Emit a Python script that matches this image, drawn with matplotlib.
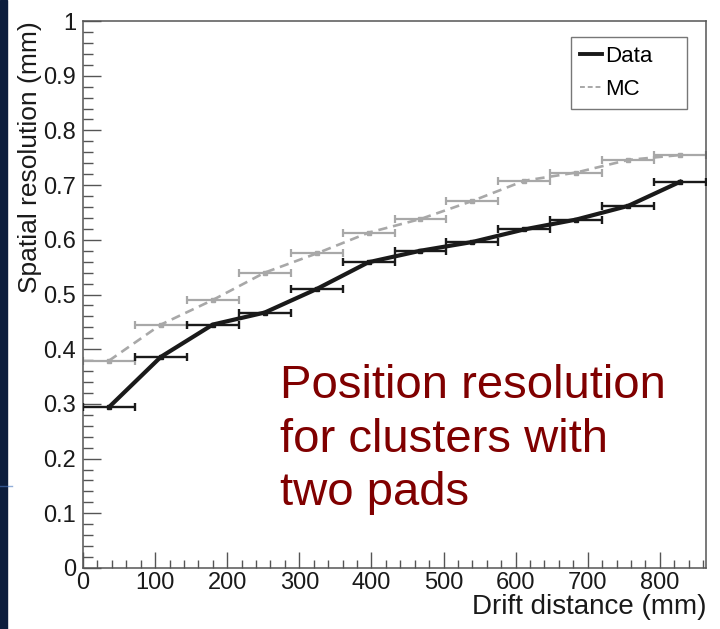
import matplotlib
matplotlib.use("Agg")
import matplotlib.pyplot as plt
from matplotlib.patches import Rectangle
from matplotlib.lines import Line2D
from matplotlib.ticker import MultipleLocator, FormatStrFormatter

plt.rcParams['font.family'] = ['Liberation Sans', 'DejaVu Sans']

# drift distance bins: 12 bins of 72 mm
bin_centers = [36, 108, 180, 252, 324, 396, 468, 540, 612, 684, 756, 828]
bin_half_width = 36

data_res = [0.294, 0.386, 0.445, 0.467, 0.510, 0.559, 0.580, 0.596, 0.619, 0.637, 0.662, 0.706]
mc_res = [0.379, 0.445, 0.490, 0.540, 0.575, 0.613, 0.638, 0.671, 0.708, 0.723, 0.746, 0.755]

x_ticks = [0, 100, 200, 300, 400, 500, 600, 700, 800]
y_ticks = [0, 0.1, 0.2, 0.3, 0.4, 0.5, 0.6, 0.7, 0.8, 0.9, 1.0]

note_lines = ["Position resolution", "for clusters with", "two pads"]

axis_grey = '#555555'
mc_grey = '#a8a8a8'
ink = '#1a1a1a'


def draw_series(ax, y, color, lw, ls, err_lw, label, z):
    ax.errorbar(bin_centers, y, xerr=bin_half_width, fmt='s', ms=3.5,
                color=color, ecolor=color, elinewidth=err_lw, capsize=2.8,
                capthick=err_lw, zorder=z)
    ax.plot(bin_centers, y, color=color, lw=lw, ls=ls, label=label, zorder=z + 1)


def main():
    fig = plt.figure(figsize=(7.2, 6.29), dpi=100)
    ax = fig.add_axes([83 / 720, 61 / 629, 623 / 720, 547 / 629])

    draw_series(ax, mc_res, mc_grey, 1.9, (0, (3.5, 2.2)), 1.6, 'MC', 2)
    draw_series(ax, data_res, ink, 3.0, '-', 1.7, 'Data', 4)

    ax.set_xlim(0, 864)
    ax.set_ylim(0, 1)
    ax.set_xticks(x_ticks)
    ax.set_yticks(y_ticks)
    ax.xaxis.set_minor_locator(MultipleLocator(20))
    ax.yaxis.set_minor_locator(MultipleLocator(0.02))
    ax.xaxis.set_major_formatter(FormatStrFormatter('%g'))
    ax.yaxis.set_major_formatter(FormatStrFormatter('%g'))
    ax.tick_params(which='both', direction='in', top=False, right=False,
                   color=axis_grey, width=1.0, labelsize=17, labelcolor=ink)
    ax.tick_params(axis='x', which='major', length=11.5, pad=3)
    ax.tick_params(axis='x', which='minor', length=6)
    ax.tick_params(axis='y', which='major', length=13, pad=5)
    ax.tick_params(axis='y', which='minor', length=7.5)
    for sp in ax.spines.values():
        sp.set_color(axis_grey)
        sp.set_linewidth(1.1)

    ax.set_xlabel('Drift distance (mm)', fontsize=20, color=ink, loc='right', labelpad=0)
    ax.set_ylabel('Spatial resolution (mm)', fontsize=19, color=ink, loc='top', labelpad=1)

    handles = [Line2D([], [], color=ink, lw=2.8),
               Line2D([], [], color=mc_grey, lw=1.4, ls=(0, (2.5, 1.5)))]
    leg = ax.legend(handles, ['Data', 'MC'], loc='upper left',
                    bbox_to_anchor=(571 / 720, 1 - 107 / 629, 116 / 720, 70 / 629),
                    bbox_transform=fig.transFigure, mode='expand', borderaxespad=0,
                    fontsize=16, handlelength=1.0, handletextpad=0.15,
                    borderpad=0.4, labelspacing=0.55, fancybox=False, framealpha=1)
    leg.get_frame().set_edgecolor('#777777')
    leg.get_frame().set_linewidth(1.0)

    # slide text beside the plot
    for i, line in enumerate(note_lines):
        fig.text(280 / 720, 1 - (398 + 53.5 * i) / 629, line, fontsize=34,
                 color='#800000', va='baseline', ha='left')

    # dark slide edge on the left
    fig.patches.append(Rectangle((0, 0), 7 / 720, 1, transform=fig.transFigure,
                                 color='#0c1d3c', zorder=-1))
    fig.lines.append(Line2D([0, 12 / 720], [1 - 486 / 629] * 2, transform=fig.transFigure,
                            color='#4a78c0', lw=1.0, alpha=0.6))

    fig.savefig('out.png', dpi=100)


if __name__ == "__main__":
    main()
